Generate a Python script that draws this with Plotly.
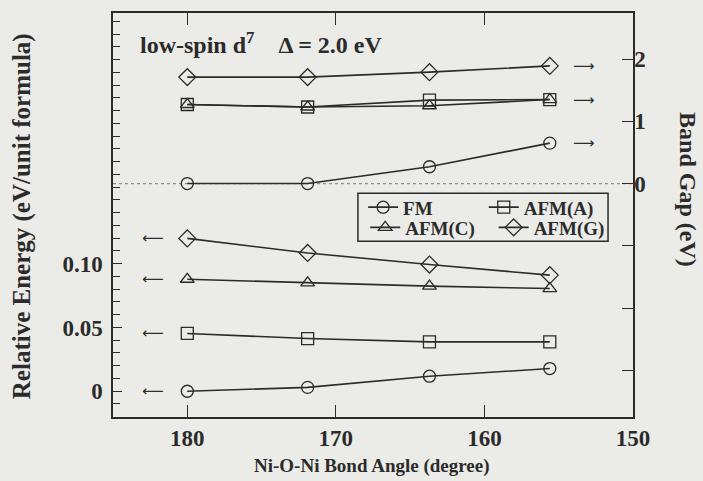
import plotly.graph_objects as go

# Ni-O-Ni bond angles (degree)
angles = [180.0, 171.9, 163.7, 155.6]

series_names = ["FM", "AFM(A)", "AFM(C)", "AFM(G)"]
symbols = ["circle-open", "square-open", "triangle-up-open", "diamond-open"]
marker_sizes = [12, 12, 12, 13]
legend_ids = ["legend", "legend2", "legend3", "legend4"]

# Relative energy (eV / unit formula), left axis
energy_FM = [0.0, 0.003, 0.0118, 0.0178]
energy_AFM_A = [0.0453, 0.0413, 0.0387, 0.0387]
energy_AFM_C = [0.0878, 0.0849, 0.0824, 0.0805]
energy_AFM_G = [0.1198, 0.1084, 0.0993, 0.0910]

# Band gap (eV), right axis
gap_FM = [0.0, 0.0, 0.27, 0.65]
gap_AFM_A = [1.27, 1.23, 1.34, 1.35]
gap_AFM_C = [1.27, 1.23, 1.25, 1.35]
gap_AFM_G = [1.71, 1.71, 1.79, 1.89]

left_tick_labels = {0.0: "0", 0.05: "0.05", 0.10: "0.10"}
right_tick_labels = {0: "0", 1: "1", 2: "2"}
x_tick_labels = [180, 170, 160, 150]

energies = [energy_FM, energy_AFM_A, energy_AFM_C, energy_AFM_G]
gaps = [gap_FM, gap_AFM_A, gap_AFM_C, gap_AFM_G]

FONT = "Liberation Serif"
INK = "#2b2b2b"
BG = "#ebebe8"

fig = go.Figure()
for name, sym, ms, lg, e, g in zip(series_names, symbols, marker_sizes, legend_ids, energies, gaps):
    style = dict(
        mode="lines+markers",
        line=dict(color=INK, width=1.6),
        marker=dict(symbol=sym, size=ms, color=INK, line=dict(width=1.3, color=INK)),
    )
    fig.add_trace(go.Scatter(x=angles, y=e, name=f"<b>{name}</b>", yaxis="y", showlegend=True,
                             legend=lg, **style))
    fig.add_trace(go.Scatter(x=angles, y=g, name=f"<b>{name}</b>", yaxis="y2", showlegend=False, **style))

# zero line of band gap axis
fig.add_shape(type="line", xref="paper", x0=0, x1=1, yref="y2", y0=0, y1=0,
              line=dict(color="#9a8a8a", width=1.2, dash="dot"), layer="below")
# legend frame
fig.add_shape(type="rect", xref="paper", yref="paper", x0=0.471, x1=0.952, y0=0.435, y1=0.554,
              line=dict(color=INK, width=1.5), fillcolor=BG, layer="above")

ARROW_FONT = dict(family="DejaVu Sans", size=15, color=INK)
annotations = []
# left-pointing arrows for energy curves
for e in energies:
    annotations.append(dict(x=182.3, y=e[0], xref="x", yref="y", text="⟵", showarrow=False,
                            xanchor="center", font=ARROW_FONT))
# right-pointing arrows for band gap curves
for g in [gap_FM, gap_AFM_A, gap_AFM_G]:
    annotations.append(dict(x=153.3, y=g[-1], xref="x", yref="y2", text="⟶", showarrow=False,
                            xanchor="center", font=ARROW_FONT))

annotations.append(dict(x=0.048, y=0.925, xref="paper", yref="paper", xanchor="left", yanchor="middle",
                        text="<b>low-spin d<sup>7</sup>\u2002\u2002Δ = 2.0 eV</b>", showarrow=False,
                        font=dict(family=FONT, size=24, color=INK)))
annotations.append(dict(x=-0.175, y=0.497, xref="paper", yref="paper", xanchor="center", yanchor="middle",
                        text="<b>Relative Energy (eV/unit formula)</b>",
                        textangle=-90, showarrow=False, font=dict(family=FONT, size=25, color=INK)))
annotations.append(dict(x=1.106, y=0.564, xref="paper", yref="paper", xanchor="center", yanchor="middle",
                        text="<b>Band Gap (eV)</b>",
                        textangle=90, showarrow=False, font=dict(family=FONT, size=24, color=INK)))
annotations.append(dict(x=0.498, y=-0.122, xref="paper", yref="paper", xanchor="center", yanchor="middle",
                        text="<b>Ni-O-Ni Bond Angle (degree)</b>",
                        showarrow=False, font=dict(family=FONT, size=19, color=INK)))

tickfont = dict(family=FONT, size=23, color=INK)
legend_style = dict(orientation="v", yanchor="middle", xanchor="left",
                    bgcolor="rgba(0,0,0,0)", borderwidth=0, itemwidth=30,
                    font=dict(family=FONT, size=19, color=INK))

fig.update_layout(
    width=703, height=481,
    margin=dict(l=113, r=70, t=13, b=64),
    paper_bgcolor=BG, plot_bgcolor=BG,
    showlegend=True,
    legend=dict(x=0.481, y=0.519, **legend_style),
    legend2=dict(x=0.713, y=0.519, **legend_style),
    legend3=dict(x=0.485, y=0.469, **legend_style),
    legend4=dict(x=0.732, y=0.469, **legend_style),
    xaxis=dict(range=[185.0, 150.0], tickvals=x_tick_labels, ticktext=[f"<b>{v}</b>" for v in x_tick_labels],
               ticks="inside", ticklen=12, tickwidth=1.3, tickcolor=INK,
               showline=True, linecolor=INK, linewidth=1.5, mirror="ticks",
               showgrid=False, zeroline=False, tickfont=tickfont),
    yaxis=dict(range=[-0.0202, 0.2965],
               tickvals=list(left_tick_labels.keys()),
               ticktext=[f"<b>{t}</b>" for t in left_tick_labels.values()],
               ticks="inside", ticklen=9, tickwidth=1.3, tickcolor=INK,
               minor=dict(dtick=0.01, tick0=0, ticks="inside", ticklen=7, tickwidth=1.3, tickcolor=INK),
               showline=True, linecolor=INK, linewidth=1.5, ticklabelstandoff=4,
               showgrid=False, zeroline=False, tickfont=tickfont),
    yaxis2=dict(range=[-3.75, 2.74], overlaying="y", side="right",
                tickvals=[-3, -2, -1, 0, 1, 2],
                ticktext=["", "", ""] + [f"<b>{t}</b>" for t in right_tick_labels.values()],
                ticks="inside", ticklen=11, tickwidth=1.3, tickcolor=INK,
                showline=True, linecolor=INK, linewidth=1.5, ticklabelstandoff=-5,
                showgrid=False, zeroline=False, tickfont=tickfont),
    annotations=annotations,
)

fig.write_html("out.html", config={"displayModeBar": False},
               post_script="document.body.style.margin='0';document.body.style.background='%s';" % BG)
